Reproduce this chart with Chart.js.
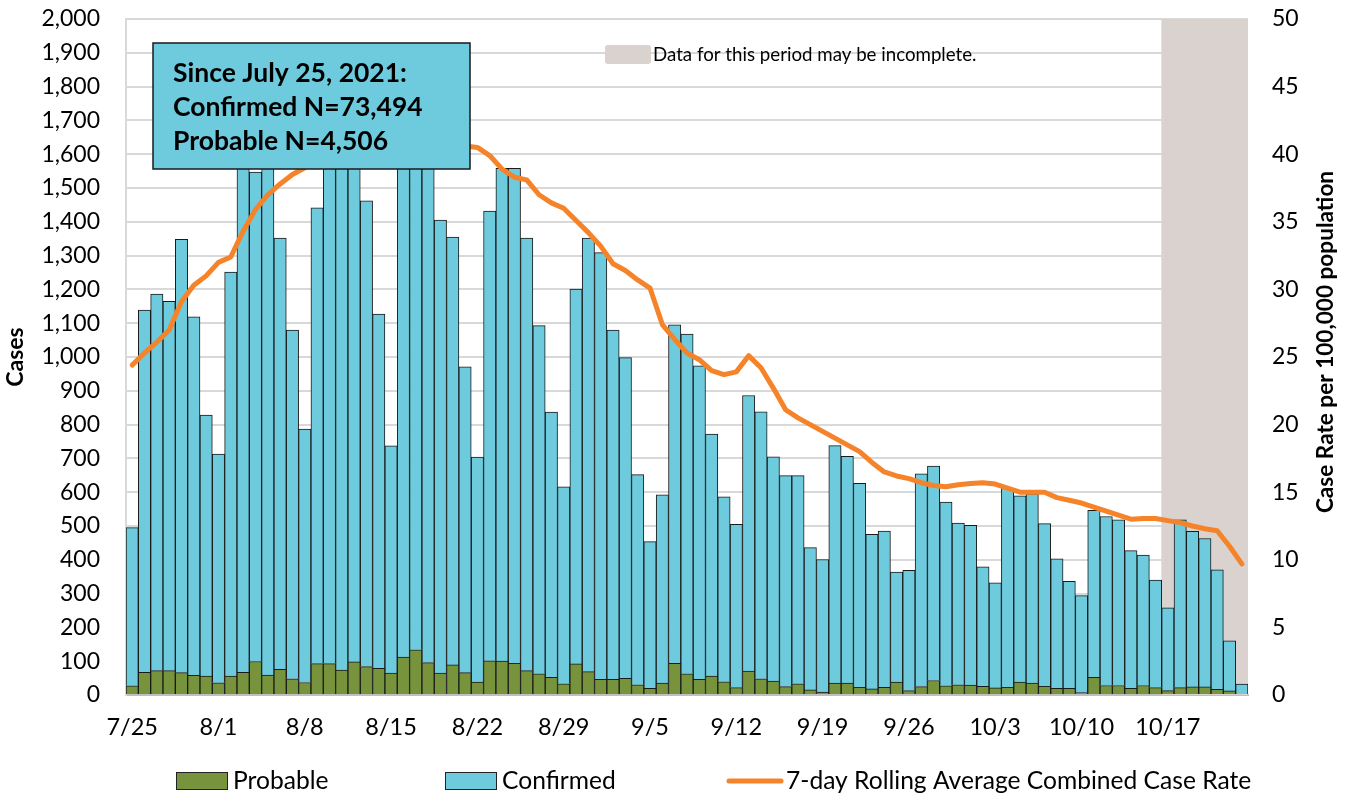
<!DOCTYPE html>
<html>
<head>
<meta charset="utf-8">
<script src="https://cdn.jsdelivr.net/npm/chart.js@4/dist/chart.umd.min.js"></script>
<style>
  html, body { margin: 0; padding: 0; background: #fff; }
  #wrap { width: 1350px; height: 796px; position: relative; }
</style>
</head>
<body>
<div id="wrap"><canvas id="casesChart"></canvas></div>
<script>
// Daily labels, 7/25/2021 - 10/23/2021
const dates = [
  '7/25','7/26','7/27','7/28','7/29','7/30','7/31',
  '8/1','8/2','8/3','8/4','8/5','8/6','8/7','8/8','8/9','8/10','8/11','8/12','8/13','8/14','8/15',
  '8/16','8/17','8/18','8/19','8/20','8/21','8/22','8/23','8/24','8/25','8/26','8/27','8/28','8/29',
  '8/30','8/31',
  '9/1','9/2','9/3','9/4','9/5','9/6','9/7','9/8','9/9','9/10','9/11','9/12','9/13','9/14','9/15',
  '9/16','9/17','9/18','9/19','9/20','9/21','9/22','9/23','9/24','9/25','9/26','9/27','9/28','9/29','9/30',
  '10/1','10/2','10/3','10/4','10/5','10/6','10/7','10/8','10/9','10/10','10/11','10/12','10/13','10/14',
  '10/15','10/16','10/17','10/18','10/19','10/20','10/21','10/22','10/23'
];

const probable = [
  27, 67, 72, 72, 66, 58, 56,
  36, 56, 67, 99, 59, 76, 48,
  37, 93, 93, 74, 98, 84, 79,
  65, 112, 134, 96, 65, 89, 66,
  38, 101, 100, 94, 72, 63, 52,
  33, 92, 69, 46, 46, 49, 30,
  20, 35, 94, 63, 46, 56, 39,
  22, 71, 48, 41, 25, 33, 15,
  9, 35, 35, 23, 18, 23, 38,
  13, 25, 43, 27, 30, 29, 26,
  21, 23, 38, 35, 26, 20, 20,
  7, 52, 28, 28, 20, 28, 22,
  13, 22, 24, 24, 17, 12, 0
];

const confirmed = [
  468, 1072, 1114, 1093, 1282, 1061, 772,
  677, 1195, 1508, 1448, 1531, 1276, 1032,
  750, 1348, 1557, 1626, 1542, 1378, 1048,
  672, 1468, 1656, 1604, 1340, 1266, 905,
  666, 1331, 1458, 1464, 1280, 1030, 785,
  583, 1109, 1283, 1263, 1034, 949, 622,
  434, 557, 1001, 1005, 928, 716, 547,
  483, 815, 790, 664, 624, 616, 421,
  392, 703, 671, 603, 457, 462, 326,
  356, 629, 634, 544, 479, 473, 353,
  311, 589, 551, 560, 481, 383, 316,
  287, 494, 500, 490, 407, 386, 318,
  245, 496, 460, 439, 353, 148, 32
];

// 7-day rolling average combined case rate per 100,000
const caseRate = [
  24.4, 25.3, 26.1, 27.0, 29.1, 30.3, 31.0,
  32.0, 32.4, 34.3, 35.9, 37.0, 37.8, 38.5,
  39.0, 39.8, 40.2, 40.8, 41.1, 41.5, 41.7,
  41.5, 42.1, 42.7, 42.7, 41.7, 41.2, 40.6,
  40.5, 39.9, 38.9, 38.3, 38.1, 37.0, 36.4,
  36.0, 35.1, 34.2, 33.2, 31.9, 31.4, 30.7,
  30.1, 27.4, 26.3, 25.3, 24.8, 24.0, 23.7,
  23.9, 25.1, 24.2, 22.7, 21.1, 20.5, 20.0,
  19.5, 19.0, 18.5, 18.0, 17.2, 16.5, 16.2,
  16.0, 15.7, 15.5, 15.4, 15.55, 15.65, 15.7,
  15.6, 15.3, 15.0, 15.0, 15.0, 14.6, 14.4,
  14.2, 13.9, 13.6, 13.3, 13.0, 13.05, 13.05,
  12.9, 12.75, 12.5, 12.3, 12.15, 11.0, 9.7
];

const incompleteFrom = '10/17';
const summaryLines = ['Since July 25, 2021:', 'Confirmed N=73,494', 'Probable N=4,506'];
const rightTitle = 'Case Rate per 100,000 population';

const GREEN = '#77933C';
const CYAN = '#6DCBDD';
const ORANGE = '#F5832A';
const SHADE = '#D9D2CE';

Chart.defaults.font.family = 'Lato';
Chart.defaults.color = '#000';

const cutIdx = dates.indexOf(incompleteFrom);
const incomplete = dates.map((d, i) => (i >= cutIdx ? 1 : null));

// summary box, "incomplete" key, right axis title and bottom legend
const overlayPlugin = {
  id: 'overlay',
  afterDraw(chart) {
    const ctx = chart.ctx;
    ctx.save();

    ctx.fillStyle = CYAN;
    ctx.strokeStyle = '#1a1a1a';
    ctx.lineWidth = 1.5;
    ctx.fillRect(153, 43, 317, 126);
    ctx.strokeRect(153, 43, 317, 126);
    ctx.fillStyle = '#000';
    ctx.font = 'bold 26.5px Lato';
    ctx.textBaseline = 'middle';
    summaryLines.forEach((t, i) => ctx.fillText(t, 173, 73 + i * 34));

    ctx.fillStyle = SHADE;
    ctx.beginPath();
    ctx.roundRect(605, 45, 46, 19, 3);
    ctx.fill();
    ctx.fillStyle = '#000';
    ctx.font = '18.7px Lato';
    ctx.fillText('Data for this period may be incomplete.', 653, 55);

    // right axis title
    ctx.save();
    ctx.translate(1326, 342);
    ctx.rotate(-Math.PI / 2);
    ctx.textAlign = 'center';
    ctx.font = 'bold 22.6px Lato';
    ctx.fillText(rightTitle, 0, 0);
    ctx.restore();

    const y = 781;
    ctx.font = '24.6px Lato';
    ctx.lineWidth = 1;
    ctx.strokeStyle = '#222';
    ctx.fillStyle = GREEN;
    ctx.fillRect(176, y - 9, 52, 18);
    ctx.strokeRect(176.5, y - 8.5, 51, 17);
    ctx.fillStyle = '#000';
    ctx.fillText('Probable', 233, y);

    ctx.fillStyle = CYAN;
    ctx.fillRect(445, y - 9, 52, 18);
    ctx.strokeRect(445.5, y - 8.5, 51, 17);
    ctx.fillStyle = '#000';
    ctx.fillText('Confirmed', 502, y);

    ctx.strokeStyle = ORANGE;
    ctx.lineWidth = 5;
    ctx.lineCap = 'round';
    ctx.beginPath();
    ctx.moveTo(729, y);
    ctx.lineTo(781, y);
    ctx.stroke();
    ctx.fillStyle = '#000';
    ctx.fillText('7-day Rolling Average Combined Case Rate', 786, y);

    ctx.restore();
  }
};

new Chart(document.getElementById('casesChart'), {
  type: 'bar',
  data: {
    labels: dates,
    datasets: [
      {
        type: 'line',
        label: '7-day Rolling Average Combined Case Rate',
        data: caseRate,
        yAxisID: 'y1',
        borderColor: ORANGE,
        borderWidth: 5,
        borderCapStyle: 'round',
        borderJoinStyle: 'round',
        pointRadius: 0,
        tension: 0,
        order: 0
      },
      {
        label: 'Probable',
        data: probable,
        backgroundColor: GREEN,
        borderColor: '#1a1a1a',
        borderWidth: 1,
        barPercentage: 1,
        categoryPercentage: 1,
        stack: 'cases',
        order: 1
      },
      {
        label: 'Confirmed',
        data: confirmed,
        backgroundColor: CYAN,
        borderColor: '#1a1a1a',
        borderWidth: 1,
        barPercentage: 1,
        categoryPercentage: 1,
        stack: 'cases',
        order: 2
      },
      {
        label: 'Data for this period may be incomplete.',
        data: incomplete,
        yAxisID: 'yShade',
        backgroundColor: SHADE,
        borderWidth: 0,
        barPercentage: 1,
        categoryPercentage: 1,
        grouped: false,
        stack: 'shade',
        order: 3
      }
    ]
  },
  options: {
    responsive: true,
    maintainAspectRatio: false,
    animation: false,
    layout: { padding: { top: 19, bottom: 56, left: 0, right: 0 } },
    plugins: {
      legend: { display: false },
      tooltip: { enabled: false }
    },
    scales: {
      x: {
        stacked: true,
        grid: { display: false },
        border: { color: '#bfbfbf', width: 2 },
        ticks: {
          autoSkip: false,
          maxRotation: 0,
          padding: 10,
          font: { size: 23.5 },
          callback: (v, i) => (i % 7 === 0 ? dates[i] : '')
        },
        afterFit: s => { s.height = 45; }
      },
      y: {
        stacked: true,
        min: 0,
        max: 2000,
        ticks: { stepSize: 100, padding: 26, font: { size: 23 } },
        grid: { color: '#d9d9d9', lineWidth: 2, drawTicks: false },
        border: { color: '#d9d9d9', width: 2 },
        title: { display: true, text: 'Cases', font: { size: 23, weight: 'bold' }, padding: 2 },
        afterFit: s => { s.width = 126; s.paddingTop = 0; s.paddingBottom = 0; }
      },
      y1: {
        position: 'right',
        min: 0,
        max: 50,
        ticks: { stepSize: 5, padding: 24, font: { size: 23 } },
        grid: { drawOnChartArea: false, drawTicks: false },
        border: { display: false },
        afterFit: s => { s.width = 102; s.paddingTop = 0; s.paddingBottom = 0; }
      },
      yShade: {
        display: false,
        min: 0,
        max: 1,
        stacked: true
      }
    }
  },
  plugins: [overlayPlugin]
});
</script>
</body>
</html>
